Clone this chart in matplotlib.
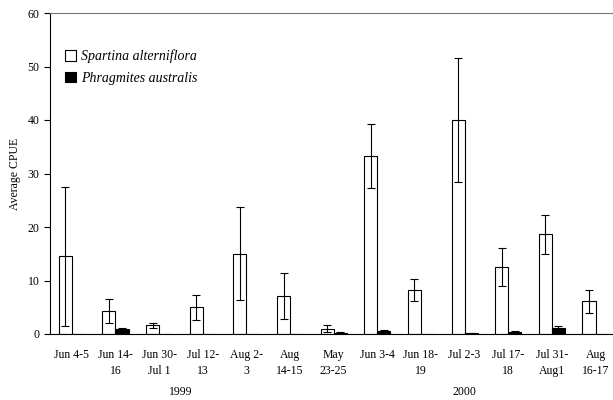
import numpy as np
import matplotlib.pyplot as plt
from matplotlib.patches import Patch
from matplotlib.transforms import blended_transform_factory

dates = ["Jun 4-5", "Jun 14-\n16", "Jun 30-\nJul 1", "Jul 12-\n13", "Aug 2-\n3", "Aug\n14-15",
         "May\n23-25", "Jun 3-4", "Jun 18-\n19", "Jul 2-3", "Jul 17-\n18", "Jul 31-\nAug1", "Aug\n16-17"]
spartina = [14.5, 4.3, 1.6, 5.0, 15.0, 7.1, 1.0, 33.3, 8.2, 40.0, 12.5, 18.6, 6.1]
spartina_err = [13.0, 2.3, 0.4, 2.3, 8.7, 4.3, 0.6, 6.0, 2.1, 11.5, 3.5, 3.6, 2.2]
phrag = [0, 0.9, 0, 0, 0, 0, 0.2, 0.6, 0, 0.1, 0.4, 1.1, 0]
phrag_err = [0, 0.3, 0, 0, 0, 0, 0.1, 0.2, 0, 0.05, 0.1, 0.4, 0]
years = ["1999", "2000"]
year_groups = [(0, 5), (6, 12)]

plt.rcParams['font.family'] = ['Liberation Serif', 'DejaVu Serif']

fig = plt.figure(figsize=(6.13, 4.0), dpi=100)
ax = fig.add_axes([0.0816, 0.165, 0.9184, 0.8025])

x = np.arange(len(dates))
w = 0.3
ekw = dict(elinewidth=0.8, capthick=0.8, ecolor='black')
ax.bar(x - w/2, spartina, w, yerr=spartina_err, capsize=3, color='white',
       edgecolor='black', linewidth=0.8, error_kw=ekw)
phrag_yerr = [e if e > 0 else np.nan for e in phrag_err]
ax.bar(x + w/2, phrag, w, yerr=phrag_yerr, capsize=3, color='black',
       edgecolor='black', linewidth=0.8, error_kw=ekw)

ax.set_xlim(-0.5, 12.4)
ax.set_ylim(0, 60)
ax.set_yticks(np.arange(0, 61, 10))
ax.set_xticks(x)
ax.set_xticklabels(dates, fontsize=8.5, linespacing=1.4)
ax.tick_params(axis='x', length=0, pad=11)
ax.tick_params(axis='y', labelsize=8.5, length=4, width=0.8, direction='out')
ax.set_ylabel("Average CPUE", fontsize=8.5, labelpad=5)

ax.spines['right'].set_visible(False)
for s in ['top', 'left', 'bottom']:
    ax.spines[s].set_linewidth(0.8)
ax.spines['top'].set_color('#777777')

trans = blended_transform_factory(ax.transData, fig.transFigure)
for yr, (a, b) in zip(years, year_groups):
    ax.text((a + b) / 2, 0.02, yr, transform=trans, ha='center', va='center', fontsize=8.5)

handles = [Patch(facecolor='white', edgecolor='black', linewidth=0.8),
           Patch(facecolor='black', edgecolor='black', linewidth=0.8)]
ax.legend(handles, ["Spartina alterniflora", "Phragmites australis"], loc='upper left',
          bbox_to_anchor=(0.005, 0.925), frameon=False, handlelength=0.8, handleheight=0.8,
          handletextpad=0.3, labelspacing=0.6, prop={'style': 'italic', 'size': 10})

fig.savefig("out.png", dpi=100)
